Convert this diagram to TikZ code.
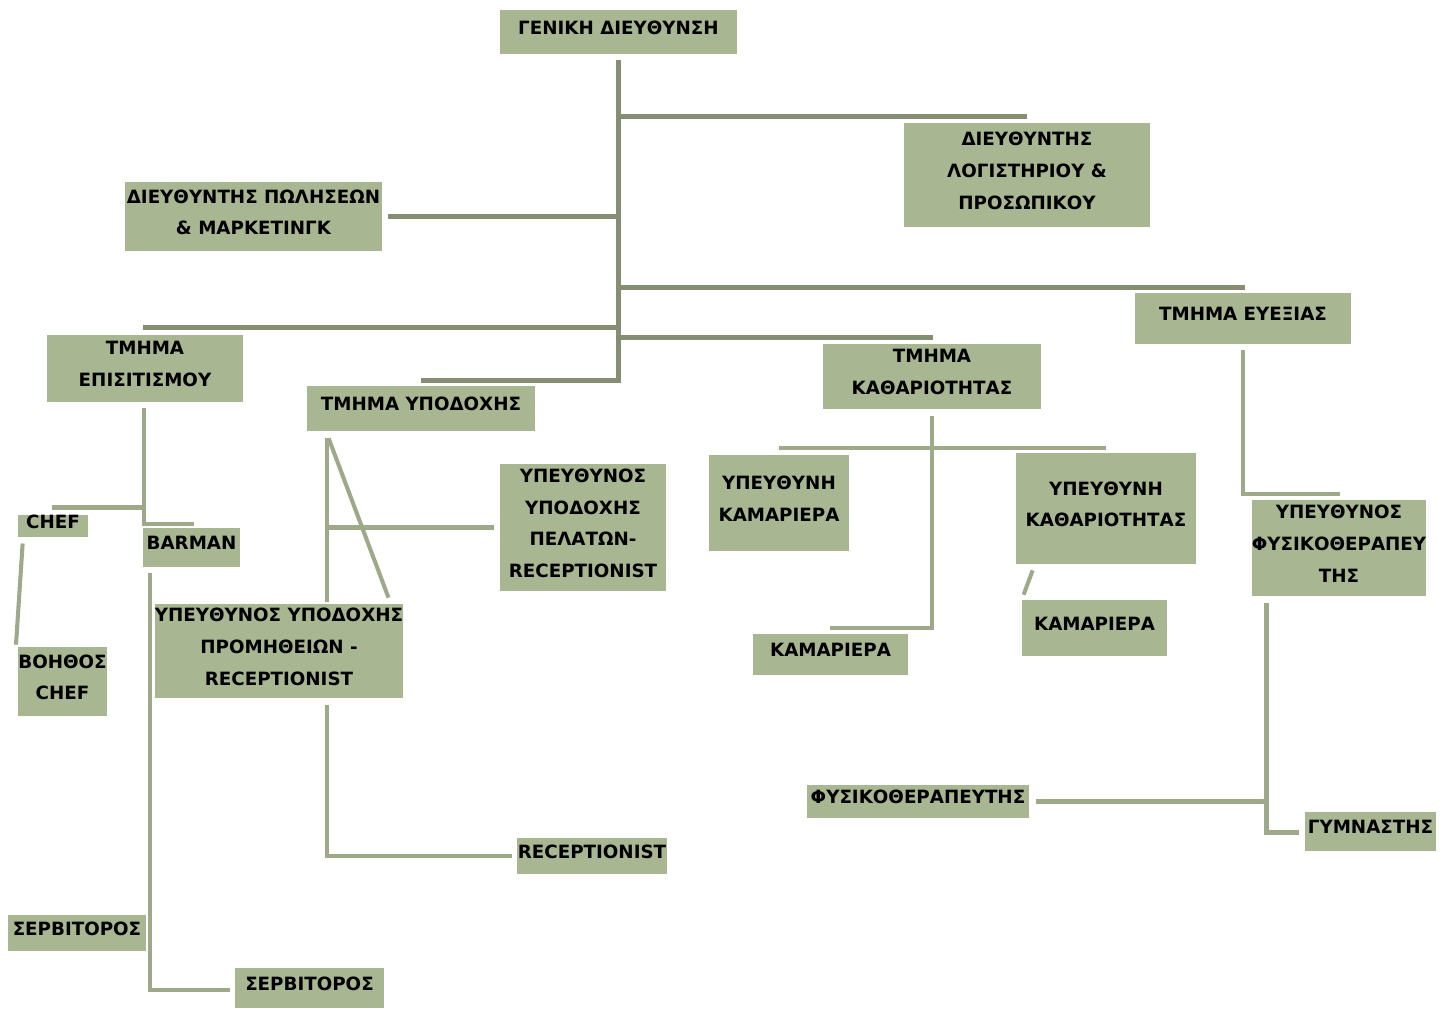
\documentclass[tikz,border=0pt]{standalone}
\usepackage{fontspec}
\setmainfont{DejaVu Sans}
\usetikzlibrary{calc}
\definecolor{boxgreen}{HTML}{A8B692}
\definecolor{linedark}{HTML}{858E72}
\definecolor{linelight}{HTML}{9DA989}
\begin{document}
\begin{tikzpicture}[x=0.02cm,y=-0.02cm,
  box/.style 2 args={fill=boxgreen,inner sep=0pt,align=center,
    minimum width=#1*\pxl,minimum height=#2*\pxl,
    font=\fontsize{10.4}{18}\selectfont\bfseries,text depth=5pt},
  mainline/.style={linedark,line width=2.8pt},
  subline/.style={linelight,line width=2.3pt}]
  \def\pxl{0.02cm}
  \useasboundingbox (0,0) rectangle (1450,1008);

  \node[box={237}{44}] (gd) at (618.5,32) {ΓΕΝΙΚΗ ΔΙΕΥΘΥΝΣΗ};
  \node[box={246}{104}] (logist) at (1027,175) {ΔΙΕΥΘΥΝΤΗΣ\\ΛΟΓΙΣΤΗΡΙΟΥ \&\\ΠΡΟΣΩΠΙΚΟΥ};
  \node[box={257}{69}] (pol) at (253.5,216.5) {ΔΙΕΥΘΥΝΤΗΣ ΠΩΛΗΣΕΩΝ\\\& ΜΑΡΚΕΤΙΝΓΚ};
  \node[box={216}{51}] (evex) at (1243,318.5) {ΤΜΗΜΑ ΕΥΕΞΙΑΣ};
  \node[box={196}{67}] (epis) at (145,368.5) {ΤΜΗΜΑ\\ΕΠΙΣΙΤΙΣΜΟΥ};
  \node[box={228}{45}] (ypod) at (421,408.5) {ΤΜΗΜΑ ΥΠΟΔΟΧΗΣ};
  \node[box={218}{65}] (kath) at (932,376.5) {ΤΜΗΜΑ\\ΚΑΘΑΡΙΟΤΗΤΑΣ};
  \node[box={140}{96}] (ykam) at (779,503) {ΥΠΕΥΘΥΝΗ\\ΚΑΜΑΡΙΕΡΑ};
  \node[box={180}{111}] (ykath) at (1106,508.5) {ΥΠΕΥΘΥΝΗ\\ΚΑΘΑΡΙΟΤΗΤΑΣ};
  \node[box={166}{127}] (pel) at (583,527.5) {ΥΠΕΥΘΥΝΟΣ\\ΥΠΟΔΟΧΗΣ\\ΠΕΛΑΤΩΝ-\\RECEPTIONIST};
  \node[box={70}{22}] (chef) at (53,526) {CHEF};
  \node[box={97}{39}] (barman) at (191.5,547.5) {BARMAN};
  \node[box={244}{94}] (prom) at (279,651) {ΥΠΕΥΘΥΝΟΣ ΥΠΟΔΟΧΗΣ\\ΠΡΟΜΗΘΕΙΩΝ -\\RECEPTIONIST};
  \node[box={172}{96}] (yfys) at (1339,548) {ΥΠΕΥΘΥΝΟΣ\\ΦΥΣΙΚΟΘΕΡΑΠΕΥ\\ΤΗΣ};
  \node[box={145}{56}] (kam2) at (1094.5,628) {ΚΑΜΑΡΙΕΡΑ};
  \node[box={155}{41}] (kam1) at (830.5,654.5) {ΚΑΜΑΡΙΕΡΑ};
  \node[box={83}{69}] (voh) at (62.5,681.5) {ΒΟΗΘΟΣ\\CHEF};
  \node[box={222}{33}] (fys) at (918,801.5) {ΦΥΣΙΚΟΘΕΡΑΠΕΥΤΗΣ};
  \node[box={131}{39}] (gym) at (1370.5,831.5) {ΓΥΜΝΑΣΤΗΣ};
  \node[box={150}{36}] (rec) at (592,856) {RECEPTIONIST};
  \node[box={138}{36}] (serv1) at (77,933) {ΣΕΡΒΙΤΟΡΟΣ};
  \node[box={149}{40}] (serv2) at (309.5,988) {ΣΕΡΒΙΤΟΡΟΣ};

  % top level
  \draw[mainline] ($(gd.south)+(0,6)$) |- ($(ypod.north)+(0,-5)$);
  \draw[mainline] ($(gd.south |- logist.north)+(0,-6)$) -- ($(logist.north)+(0,-6)$);
  \draw[mainline] ($(pol.east)+(6,0)$) -- (gd.south |- pol.east);
  \draw[mainline] ($(gd.south |- evex.north)+(0,-5)$) -- ($(evex.north)+(2,-5)$);
  \draw[mainline] ($(epis.north)+(-2,-7)$) -- ($(gd.south |- epis.north)+(0,-7)$);
  \draw[mainline] ($(gd.south |- kath.north)+(0,-6)$) -- ($(kath.north)+(1,-6)$);

  % departments
  \draw[subline] ($(epis.south)+(-1,6)$) |- ($(barman.north)+(2,-4)$);
  \draw[subline] ($(chef.north)+(-1,-7)$) -- ($(epis.south |- chef.north)+(-1,-7)$);
  \draw[subline] ($(chef.south west)+(5,6)$) -- ($(voh.north west)+(-2,-2)$);
  \draw[subline] ($(barman.south west)+(7,6)$) |- ($(serv2.west)+(-5,2)$);
  \coordinate (yp) at ($(ypod.south west)+(20,7)$);
  \draw[subline] (yp) -- ($(yp |- prom.north)+(0,-2)$);
  \draw[subline] (yp |- pel.west) -- ($(pel.west)+(-6,0)$);
  \draw[subline] ($(ypod.south west)+(22,7)$) -- ($(prom.north east)+(-15,-6)$);
  \draw[subline] ($(prom.south)+(48,7)$) |- ($(rec.west)+(-5,0)$);
  \draw[subline] ($(kath.south)+(0,7)$) |- ($(kam1.north)+(-1,-6)$);
  \coordinate (yk) at ($(ykam.north)+(0,-7)$);
  \draw[subline] (yk) -- (yk -| ykath.north);
  \draw[subline] ($(ykath.south west)+(17,6)$) -- ($(kam2.north west)+(2,-5)$);
  \draw[subline] ($(evex.south)+(0,6)$) |- ($(yfys.north)+(1,-6)$);
  \coordinate (yf) at ($(yfys.south west)+(15,7)$);
  \draw[subline] (yf) |- ($(gym.west)+(-6,1)$);
  \draw[subline] ($(fys.east)+(7,0)$) -- (yf |- fys.east);
\end{tikzpicture}
\end{document}
